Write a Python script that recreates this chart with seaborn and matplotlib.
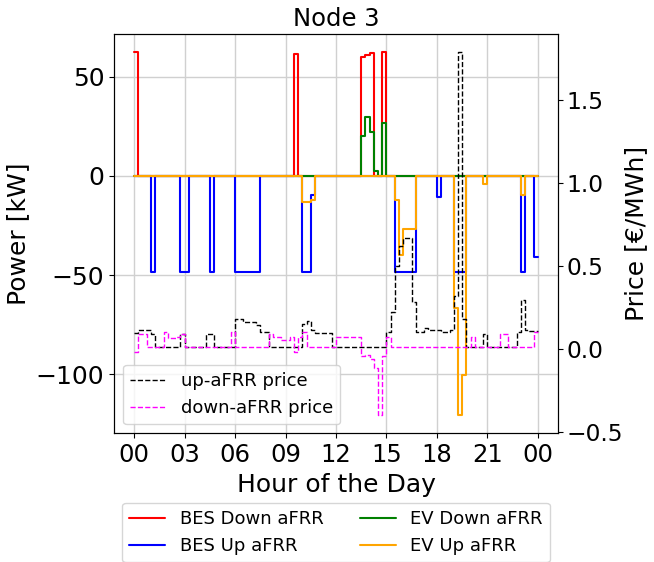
import numpy as np
import pandas as pd
import matplotlib
matplotlib.use("Agg")
import matplotlib.pyplot as plt
import seaborn as sns

# 15-minute resolution, 96 intervals over the day
bes_down = [62.3, 0, 0, 0, 0, 0, 0, 0, 0, 0, 0, 0, 0, 0, 0, 0,
            0, 0, 0, 0, 0, 0, 0, 0, 0, 0, 0, 0, 0, 0, 0, 0,
            0, 0, 0, 0, 0, 0, 61.2, 0, 0, 0, 0, 0, 0, 0, 0, 0,
            0, 0, 0, 0, 0, 0, 60.0, 61.0, 61.7, 0, 0, 62.3, 0, 0, 0, 0,
            0, 0, 0, 0, 0, 0, 0, 0, 0, 0, 0, 0, 0, 0, 0, 0,
            0, 0, 0, 0, 0, 0, 0, 0, 0, 0, 0, 0, 0, 0, 0, 0]

bes_up = [0, 0, 0, 0, -48.4, 0, 0, 0, 0, 0, 0, -48.4, -48.4, 0, 0, 0,
          0, 0, -48.4, 0, 0, 0, 0, 0, -48.4, -48.4, -48.4, -48.4, -48.4, -48.4, 0, 0,
          0, 0, 0, 0, 0, 0, 0, 0, -48.4, -48.4, -9.7, 0, 0, 0, 0, 0,
          0, 0, 0, 0, 0, 0, 0, 0, 0, 0, 0, 0, 0, 0, -48.4, -48.4,
          -48.4, -48.4, -48.4, 0, 0, 0, 0, 0, -10.6, 0, 0, 0, -48.4, -48.4, -48.4, 0,
          0, 0, 0, 0, 0, 0, 0, 0, 0, 0, 0, 0, -48.4, 0, 0, -40.8]

ev_down = [0, 0, 0, 0, 0, 0, 0, 0, 0, 0, 0, 0, 0, 0, 0, 0,
           0, 0, 0, 0, 0, 0, 0, 0, 0, 0, 0, 0, 0, 0, 0, 0,
           0, 0, 0, 0, 0, 0, 0, 0, 0, 0, 0, 0, 0, 0, 0, 0,
           0, 0, 0, 0, 0, 0, 20.0, 29.7, 22.2, 2.5, 0, 26.4, 0, 0, 0, 0,
           0, 0, 0, 0, 0, 0, 0, 0, 0, 0, 0, 0, 0, 0, 0, 0,
           0, 0, 0, 0, 0, 0, 0, 0, 0, 0, 0, 0, 0, 0, 0, 0]

ev_up = [0, 0, 0, 0, 0, 0, 0, 0, 0, 0, 0, 0, 0, 0, 0, 0,
         0, 0, 0, 0, 0, 0, 0, 0, 0, 0, 0, 0, 0, 0, 0, 0,
         0, 0, 0, 0, 0, 0, 0, 0, -13.1, -13.1, -12.3, 0, 0, 0, 0, 0,
         0, 0, 0, 0, 0, 0, 0, 0, 0, 0, 0, 0, 0, 0, -12.3, -40.0,
         -27.0, -27.0, -27.0, 0, 0, 0, 0, 0, 0, 0, 0, 0, -66.7, -120.6, -100.5, 0,
         0, 0, 0, -4.3, 0, 0, 0, 0, 0, 0, 0, 0, -9.5, 0, 0, 0]

up_price = [0.100, 0.114, 0.114, 0.114, 0.094, 0.014, 0.014, 0.014,
            0.014, 0.014, 0.014, 0.094, 0.014, 0.014, 0.014, 0.014,
            0.014, 0.094, 0.094, 0.014, 0.014, 0.014, 0.014, 0.014,
            0.184, 0.184, 0.164, 0.164, 0.164, 0.144, 0.104, 0.104,
            0.014, 0.014, 0.014, 0.014, 0.014, 0.014, 0.014, 0.014,
            0.150, 0.168, 0.114, 0.100, 0.100, 0.100, 0.100, 0.014,
            0.014, 0.014, 0.014, 0.014, 0.014, 0.014, 0.014, 0.014,
            0.014, 0.014, 0.014, 0.014, 0.104, 0.224, 0.500, 0.620,
            0.670, 0.670, 0.284, 0.104, 0.104, 0.128, 0.114, 0.114,
            0.114, 0.104, 0.104, 0.114, 0.320, 1.790, 0.184, 0.014,
            0.014, 0.014, 0.014, 0.094, 0.014, 0.014, 0.014, 0.014,
            0.014, 0.014, 0.014, 0.104, 0.294, 0.117, 0.108, 0.108]

down_price = [-0.016, 0.094, 0.094, 0.014, 0.014, 0.014, 0.014, 0.104,
              0.070, 0.070, 0.074, 0.094, 0.014, 0.014, 0.014, 0.014,
              0.014, 0.014, 0.014, 0.014, 0.014, 0.014, 0.014, 0.104,
              0.014, 0.014, 0.014, 0.014, 0.014, 0.014, 0.014, 0.014,
              0.094, 0.074, 0.074, 0.054, 0.054, 0.074, -0.016, 0.074,
              0.104, 0.014, 0.014, 0.014, 0.014, 0.014, 0.014, 0.014,
              0.074, 0.074, 0.074, 0.074, 0.074, 0.074, -0.040, -0.035,
              -0.060, -0.110, -0.397, -0.040, 0.074, 0.014, 0.014, 0.014,
              0.014, 0.014, 0.014, 0.014, 0.014, 0.014, 0.014, 0.014,
              0.014, 0.014, 0.014, 0.014, 0.014, 0.014, 0.014, 0.014,
              0.074, 0.014, 0.014, 0.014, 0.014, 0.014, 0.014, 0.090,
              0.090, 0.014, 0.014, 0.014, 0.014, 0.014, 0.014, 0.104]

tick_hours = [0, 3, 6, 9, 12, 15, 18, 21, 24]
tick_labels = ["00", "03", "06", "09", "12", "15", "18", "21", "00"]

# close the last interval at midnight for the step drawing
hours = np.arange(97) * 0.25


def closed(values):
    return list(values) + [values[-1]]


power = pd.DataFrame({
    "hour": hours,
    "BES Down aFRR": closed(bes_down),
    "BES Up aFRR": closed(bes_up),
    "EV Down aFRR": closed(ev_down),
    "EV Up aFRR": closed(ev_up),
})
prices = pd.DataFrame({
    "hour": hours,
    "up-aFRR price": closed(up_price),
    "down-aFRR price": closed(down_price),
})

sns.set_theme(style="ticks")
plt.rcParams.update({
    "font.family": ["DejaVu Sans"],
    "text.color": "black",
    "axes.labelcolor": "black",
    "axes.edgecolor": "black",
    "axes.linewidth": 0.8,
    "axes.labelpad": 4.0,
    "xtick.color": "black",
    "ytick.color": "black",
    "xtick.major.size": 3.5,
    "ytick.major.size": 3.5,
    "xtick.major.width": 0.8,
    "ytick.major.width": 0.8,
    "xtick.major.pad": 3.5,
    "ytick.major.pad": 3.5,
})

fig = plt.figure(figsize=(6.54, 5.62), dpi=100)
ax = fig.add_axes([0.1743, 0.229, 0.6789, 0.7105])

power_colors = {"BES Down aFRR": "red", "BES Up aFRR": "blue",
                "EV Down aFRR": "green", "EV Up aFRR": "orange"}
for name, col in power_colors.items():
    sns.lineplot(data=power, x="hour", y=name, ax=ax, color=col,
                 linewidth=1.5, drawstyle="steps-post", estimator=None,
                 label=name, legend=False)

ax.grid(True, color="#d0d0d0", linewidth=1.0)
ax.set_axisbelow(True)
ax.set_xticks(tick_hours)
ax.set_xticklabels(tick_labels)
ax.set_yticks([-100, -50, 0, 50])
ax.tick_params(axis="x", labelsize=17.5)
ax.tick_params(axis="y", labelsize=18)
ax.set_xlabel("Hour of the Day", fontsize=18)
ax.set_ylabel("Power [kW]", fontsize=18)
ax.set_title("Node 3", fontsize=17.5)

ax2 = ax.twinx()
price_colors = {"up-aFRR price": "black", "down-aFRR price": "magenta"}
for name, col in price_colors.items():
    sns.lineplot(data=prices, x="hour", y=name, ax=ax2, color=col,
                 linewidth=1.0, linestyle="--", drawstyle="steps-post",
                 estimator=None, label=name, legend=False)
ax2.set_yticks([-0.5, 0.0, 0.5, 1.0, 1.5])
ax2.tick_params(axis="y", labelsize=16.8, pad=2.5)
ax2.set_ylabel("Price [€/MWh]", fontsize=18, labelpad=1)
ax2.grid(False)

h2, l2 = ax2.get_legend_handles_labels()
ax2.legend(h2, l2, loc="lower left", fontsize=13, frameon=True)

h1, l1 = ax.get_legend_handles_labels()
ax.legend(h1, l1, loc="upper center", bbox_to_anchor=(0.5, -0.174),
          borderaxespad=0, ncol=2, fontsize=13, frameon=True)

fig.savefig("out.png", dpi=100)
